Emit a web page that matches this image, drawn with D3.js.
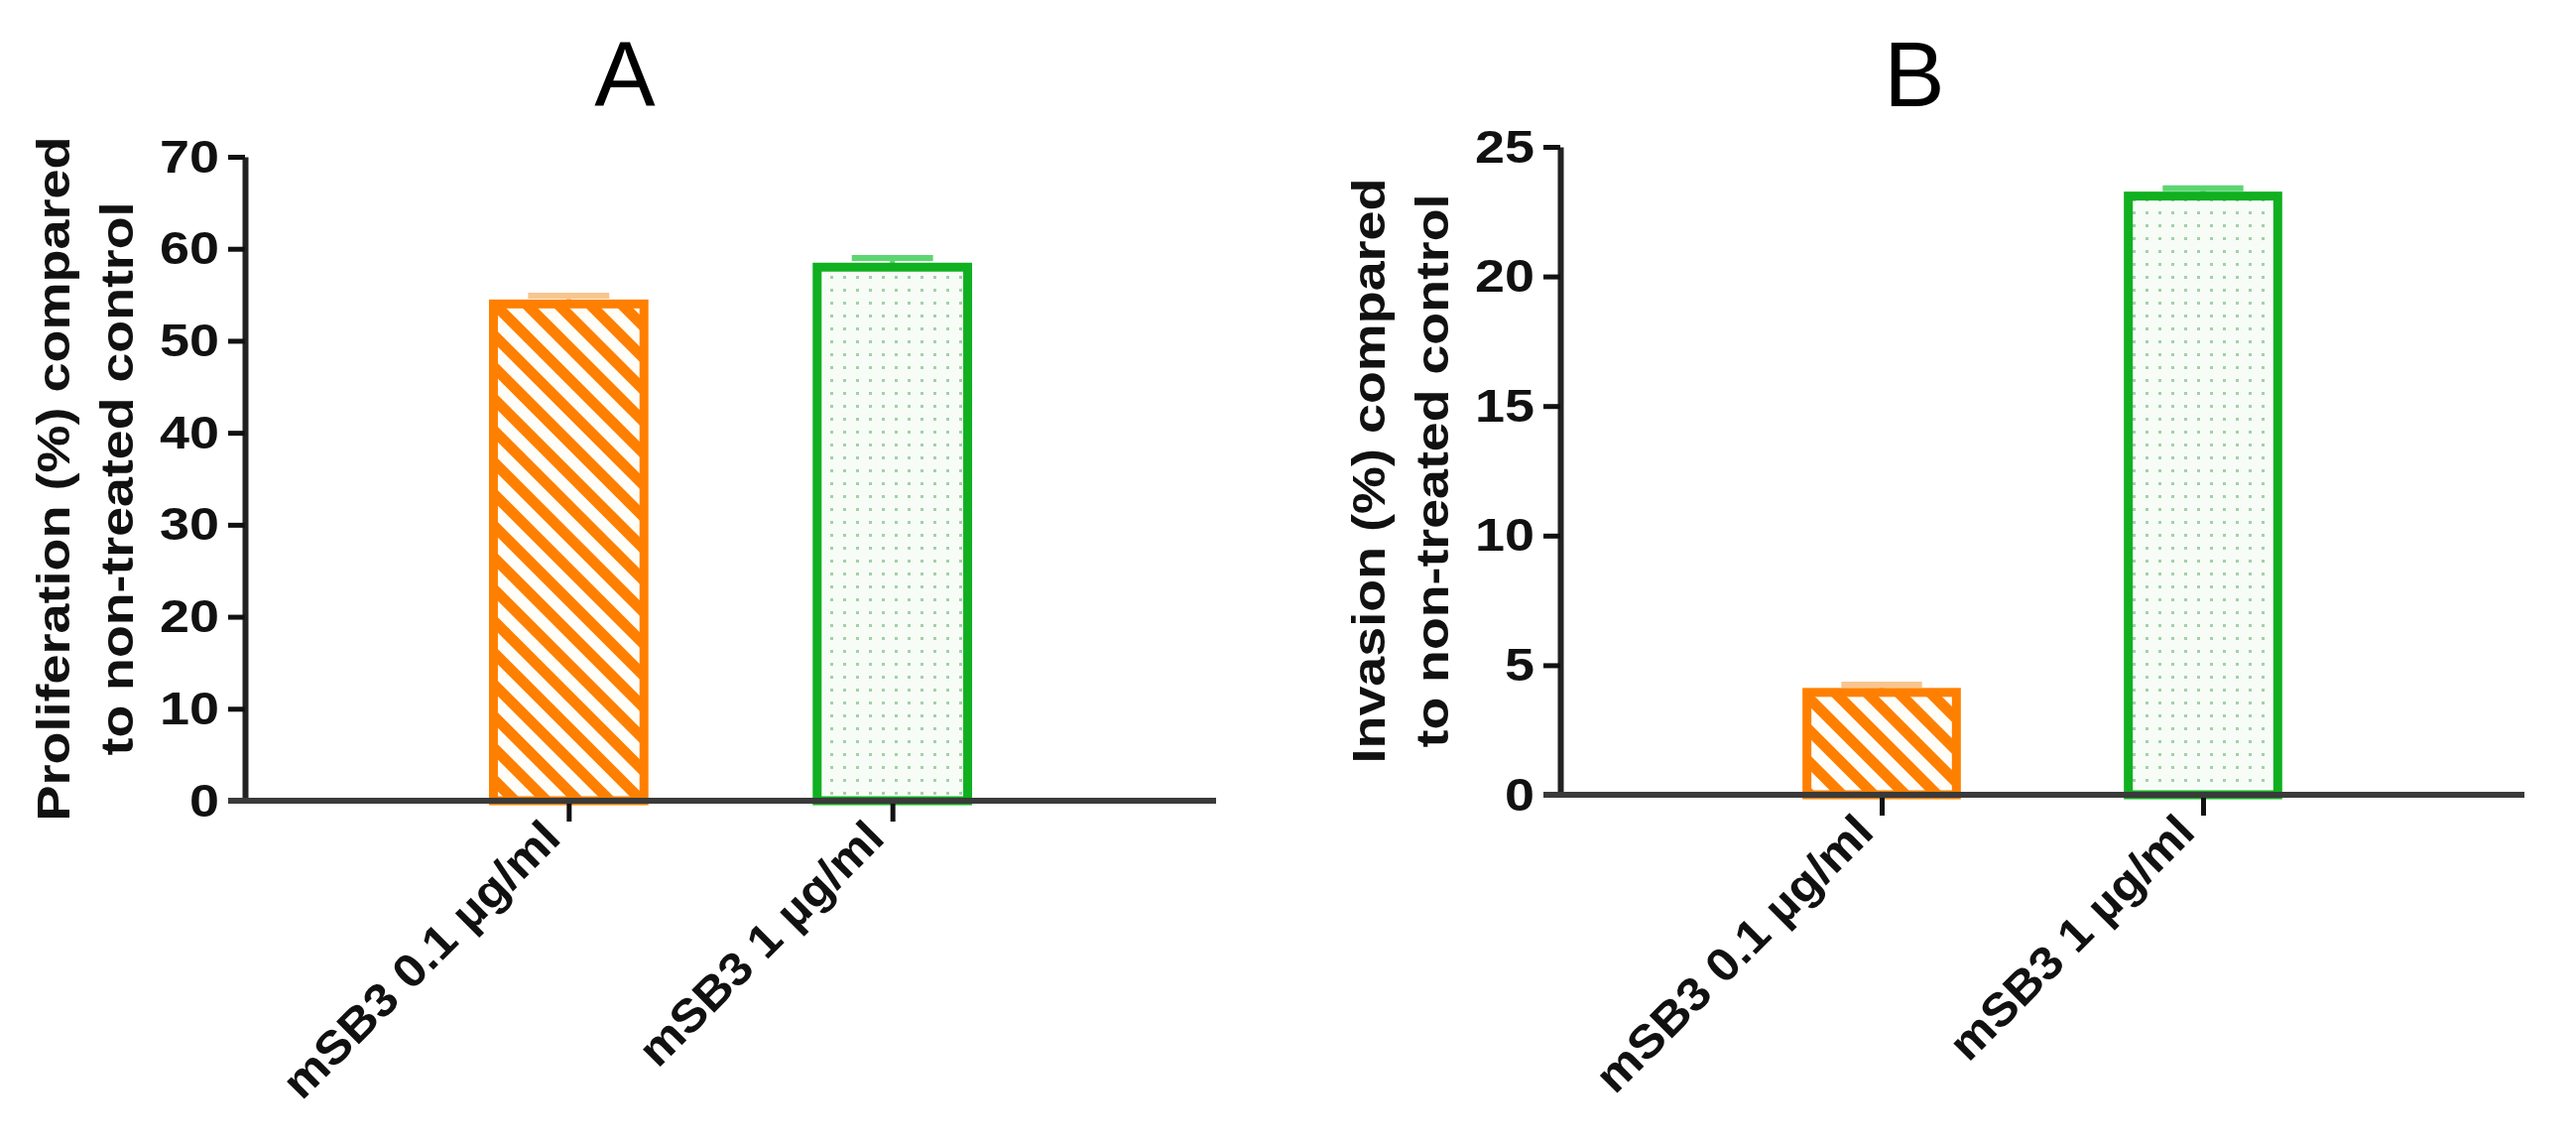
<!DOCTYPE html>
<html>
<head>
<meta charset="utf-8">
<script src="https://cdn.jsdelivr.net/npm/d3@7"></script>
<style>
  body { margin: 0; background: #fff; }
  text { font-family: "Liberation Sans", Arial, sans-serif; }
</style>
</head>
<body>
<div id="chart"></div>
<script>
const width = 2597;
const height = 1157;

// data
const categories = ["mSB3 0.1 µg/ml", "mSB3 1 µg/ml"];
const prolifValues = [54.0, 58.0];
const prolifErrors = [0.9, 1.0];
const invasionValues = [3.95, 23.1];
const invasionErrors = [0.3, 0.3];
const prolifTicks = [0, 10, 20, 30, 40, 50, 60, 70];
const invasionTicks = [0, 5, 10, 15, 20, 25];

const svg = d3.select("#chart")
  .append("svg")
  .attr("width", width)
  .attr("height", height);

svg.append("rect").attr("width", width).attr("height", height).attr("fill", "#fff");

// fill patterns
const defs = svg.append("defs");
const hatch = defs.append("pattern")
  .attr("id", "hatch")
  .attr("patternUnits", "userSpaceOnUse")
  .attr("width", 32).attr("height", 32);
hatch.append("rect").attr("width", 32).attr("height", 32).attr("fill", "#fffdf8");
hatch.append("path")
  .attr("d", "M-8,-8 L40,40 M-8,24 L8,40 M24,-8 L40,8")
  .attr("stroke", "#ff8000")
  .attr("stroke-width", 11);

const dots = defs.append("pattern")
  .attr("id", "dots")
  .attr("patternUnits", "userSpaceOnUse")
  .attr("width", 13).attr("height", 13);
dots.append("rect").attr("width", 13).attr("height", 13).attr("fill", "#f7fcf7");
dots.append("rect").attr("x", 5).attr("y", 5).attr("width", 3).attr("height", 3).attr("fill", "#a3d1a8");

const barStyles = [
  { fill: "url(#hatch)", stroke: "#ff8000", cap: "#f8c58f" },
  { fill: "url(#dots)", stroke: "#10b020", cap: "#5cd672" }
];

// the source lettering is a little wider than Liberation Sans
const catLabelLen = { "mSB3 0.1 µg/ml": 372, "mSB3 1 µg/ml": 326 };

function panel(cfg) {
  const g = svg.append("g");

  const x = d3.scalePoint()
    .domain(categories)
    .range([cfg.left, cfg.right])
    .padding(1);

  const y = d3.scaleLinear()
    .domain([0, cfg.max])
    .range([cfg.bottom, cfg.top]);

  const barW = x.step() * 0.465;

  // error bars (only upper half shows)
  const err = g.append("g");
  cfg.values.forEach((v, i) => {
    const cx = x(categories[i]);
    err.append("line")
      .attr("x1", cx).attr("x2", cx)
      .attr("y1", y(v)).attr("y2", y(v + cfg.errors[i]))
      .attr("stroke", barStyles[i].cap).attr("stroke-width", 5);
    err.append("line")
      .attr("x1", cx - barW * 0.27).attr("x2", cx + barW * 0.27)
      .attr("y1", y(v + cfg.errors[i])).attr("y2", y(v + cfg.errors[i]))
      .attr("stroke", barStyles[i].cap).attr("stroke-width", 6);
  });

  // bars
  g.selectAll("rect.bar")
    .data(cfg.values)
    .enter()
    .append("rect")
    .attr("class", "bar")
    .attr("x", (d, i) => x(categories[i]) - barW / 2)
    .attr("width", barW)
    .attr("y", d => y(d))
    .attr("height", d => y(0) - y(d))
    .attr("fill", (d, i) => barStyles[i].fill)
    .attr("stroke", (d, i) => barStyles[i].stroke)
    .attr("stroke-width", 9);

  // y axis
  const yAxis = g.append("g")
    .attr("transform", `translate(${cfg.left},0)`)
    .call(d3.axisLeft(y).tickValues(cfg.ticks).tickSize(17).tickSizeOuter(0).tickPadding(9));
  yAxis.select(".domain").attr("stroke", "#222").attr("stroke-width", 6);
  yAxis.selectAll(".tick line").attr("stroke", "#111").attr("stroke-width", 5);
  yAxis.selectAll(".tick text")
    .attr("fill", "#111")
    .attr("textLength", d => String(d).length * 30)
    .attr("lengthAdjust", "spacingAndGlyphs")
    .style("font-size", "47px")
    .style("font-weight", "bold")
    .style("font-family", "'Liberation Sans', Arial, sans-serif");

  // x axis
  const xAxis = g.append("g")
    .attr("transform", `translate(0,${y(0)})`)
    .call(d3.axisBottom(x).tickSize(21).tickSizeOuter(0).tickFormat(() => ""));
  xAxis.select(".domain").remove();
  xAxis.selectAll(".tick line").attr("stroke", "#111").attr("stroke-width", 5);
  g.append("line")
    .attr("x1", cfg.left - 17).attr("x2", cfg.right)
    .attr("y1", y(0)).attr("y2", y(0))
    .attr("stroke", "#3a3a3a").attr("stroke-width", 6);

  // rotated category labels
  g.selectAll("text.cat")
    .data(categories)
    .enter()
    .append("text")
    .attr("class", "cat")
    .attr("transform", d => `translate(${x(d) - 6},${y(0) + 40}) rotate(-45)`)
    .attr("text-anchor", "end")
    .attr("fill", "#111")
    .attr("textLength", d => catLabelLen[d])
    .attr("lengthAdjust", "spacingAndGlyphs")
    .style("font-size", "47px")
    .style("font-weight", "bold")
    .text(d => d);

  // y label, two lines
  const midY = (cfg.top + cfg.bottom) / 2;
  cfg.ylabel.forEach((t, i) => {
    g.append("text")
      .attr("transform", `translate(${cfg.left + (i === 0 ? -177 : -113)},${midY}) rotate(-90)`)
      .attr("text-anchor", "middle")
      .attr("fill", "#111")
      .attr("textLength", cfg.ylabelLen[i])
      .attr("lengthAdjust", "spacingAndGlyphs")
      .style("font-size", "46px")
      .style("font-weight", "bold")
      .text(t);
  });

  // panel letter
  g.append("text")
    .attr("x", cfg.titleX)
    .attr("y", 107)
    .attr("text-anchor", "middle")
    .attr("fill", "#000")
    .style("font-size", "92px")
    .text(cfg.title);
}

panel({
  title: "A", titleX: 630,
  left: 247, right: 1226, top: 158, bottom: 807,
  max: 70, ticks: prolifTicks,
  values: prolifValues, errors: prolifErrors,
  ylabel: ["Proliferation (%) compared", "to non-treated control"],
  ylabelLen: [690, 558]
});

panel({
  title: "B", titleX: 1930,
  left: 1573, right: 2545, top: 148, bottom: 801,
  max: 25, ticks: invasionTicks,
  values: invasionValues, errors: invasionErrors,
  ylabel: ["Invasion (%) compared", "to non-treated control"],
  ylabelLen: [590, 558]
});
</script>
</body>
</html>
